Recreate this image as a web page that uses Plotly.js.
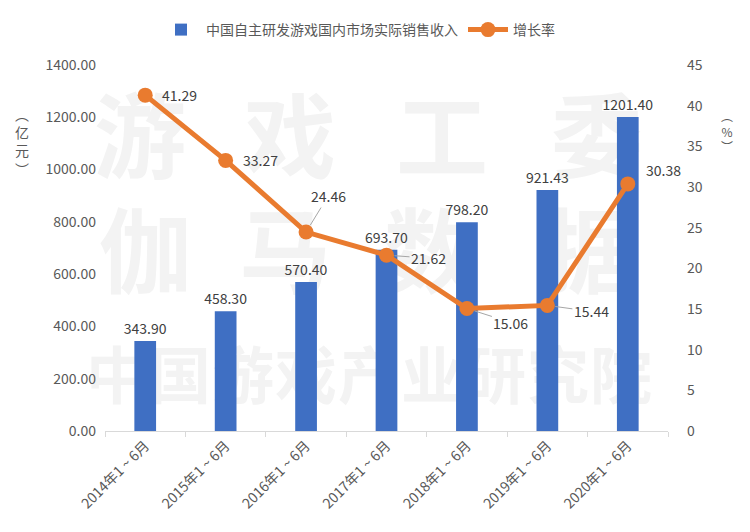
<!DOCTYPE html>
<html><head><meta charset="utf-8">
<script src="https://cdn.plot.ly/plotly-3.0.1.min.js"></script>
<style>body{margin:0;background:#fff}#c{width:750px;height:532px}</style>
</head><body><div id="c"></div><script>
// ---- data ----
const categories = ['2014年1 ~ 6月','2015年1 ~ 6月','2016年1 ~ 6月','2017年1 ~ 6月','2018年1 ~ 6月','2019年1 ~ 6月','2020年1 ~ 6月'];
const revenue = [343.90, 458.30, 570.40, 693.70, 798.20, 921.43, 1201.40];
const growth = [41.29, 33.27, 24.46, 21.62, 15.06, 15.44, 30.38];
const revenueName = '中国自主研发游戏国内市场实际销售收入';
const growthName = '增长率';
const leftTicks = [0, 200, 400, 600, 800, 1000, 1200, 1400];
const rightTicks = [0, 5, 10, 15, 20, 25, 30, 35, 40, 45];
const leftTitle = '︵<br>亿<br>元<br>︶';
const rightTitle = '︵<br>%<br>︶';
const watermarkRows = [['游','戏','工','委'], ['伽','马','数','据'], ['中','国','游','戏','产','业','研','究','院']];

// ---- styling / placement ----
const W = 750, H = 532, ML = 105, MR = 82, MT = 65, MB = 101;
const PW = W - ML - MR, PH = H - MT - MB;
const px = x => (x - ML) / PW;
const py = y => (H - MB - y) / PH;
const font = '"Noto Sans CJK SC", "Noto Sans", sans-serif';
const barColor = '#3F6FC3';
const lineColor = '#E97B2F';
const textColor = '#404040';
const tickColor = '#595959';

// label offsets (px) for growth labels: [dx, dy, leader]
const labelOffsets = [[34,0,false],[35,0,false],[22,-36,true],[42,3,true],[44,14,true],[44,6,true],[36,-14,false]];

// watermark layout
const wmLayout = [
  {xs:[140,290,442,597], y:145, size:92},
  {xs:[145,285,430,590], y:260, size:92},
  {xs:[117,180,243,306,369,432,495,558,621], y:382, size:62}
];

const shapes = [];
watermarkRows.forEach((row, r) => {
  const L = wmLayout[r];
  row.forEach((ch, i) => {
    const cx = L.xs[i], cy = L.y, hs = L.size * 0.6;
    shapes.push({
      type:'rect', xref:'paper', yref:'paper', layer:'below',
      x0:px(cx-hs), x1:px(cx+hs), y0:py(cy+hs), y1:py(cy-hs),
      line:{width:0}, fillcolor:'rgba(0,0,0,0)',
      label:{text:ch, textposition:'middle center', font:{family:font, size:L.size, color:'#f3f3f3', weight:'bold'}}
    });
  });
});

const annotations = growth.map((g, i) => {
  const o = labelOffsets[i];
  return {
    x: categories[i], y: g, xref:'x', yref:'y2',
    text: g.toFixed(2), showarrow: true, ax: o[0], ay: o[1],
    arrowhead: 0, arrowwidth: 1, standoff: 8,
    arrowcolor: o[2] ? '#a6a6a6' : 'rgba(0,0,0,0)',
    font:{family:font, size:14, color:textColor}
  };
});
annotations.push({xref:'paper', yref:'paper', x:px(13), y:py(102), text:leftTitle, showarrow:false,
  font:{family:font, size:14, color:tickColor}, align:'center'});
annotations.push({xref:'paper', yref:'paper', x:px(735), y:py(105), text:rightTitle, showarrow:false,
  font:{family:font, size:12, color:tickColor}, align:'center'});

const traces = [
  {type:'bar', name:revenueName, x:categories, y:revenue, width:0.27,
   marker:{color:barColor}, texttemplate:'%{y:.2f}', textposition:'outside', constraintext:'none',
   textfont:{family:font, size:14, color:textColor}, cliponaxis:false, hoverinfo:'skip'},
  {type:'scatter', mode:'lines+markers', name:growthName, x:categories, y:growth, yaxis:'y2',
   line:{color:lineColor, width:5}, marker:{color:lineColor, size:15}, cliponaxis:false}
];

const layout = {
  width:W, height:H, margin:{l:ML, r:MR, t:MT, b:MB},
  paper_bgcolor:'#fff', plot_bgcolor:'rgba(0,0,0,0)',
  font:{family:font, size:14, color:tickColor},
  showlegend:true,
  legend:{orientation:'h', x:px(358), xanchor:'center', y:py(30), yanchor:'middle',
    font:{family:font, size:14, color:tickColor}, itemwidth:40, traceorder:'normal'},
  xaxis:{type:'category', range:[-0.5, 6.5], showline:true, linecolor:'#d9d9d9', linewidth:1,
    ticks:'outside', tickson:'boundaries', ticklen:5, tickcolor:'#d9d9d9',
    tickangle:-45, tickfont:{family:font, size:14, color:tickColor}, showgrid:false, zeroline:false},
  yaxis:{range:[0,1400], tickvals:leftTicks, tickformat:'.2f', showgrid:false, zeroline:false,
    showline:false, ticks:'', ticklabelstandoff:8, tickfont:{family:font, size:14, color:tickColor}},
  yaxis2:{range:[0,45], tickvals:rightTicks, overlaying:'y', side:'right', showgrid:false, zeroline:false,
    showline:false, ticks:'', ticklabelstandoff:18, tickfont:{family:font, size:14, color:tickColor}},
  shapes:shapes, annotations:annotations
};

Plotly.newPlot('c', traces, layout, {displayModeBar:false, staticPlot:true});
</script></body></html>
